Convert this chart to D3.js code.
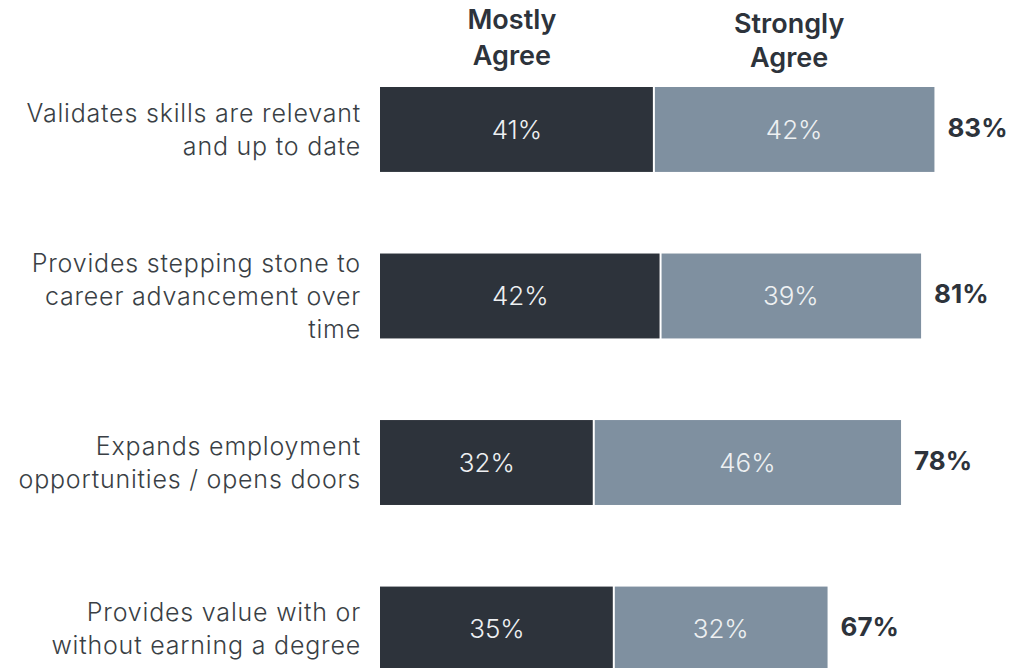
<!DOCTYPE html>
<html>
<head>
<meta charset="utf-8">
<script src="https://cdn.jsdelivr.net/npm/d3@7"></script>
<style>
  html, body { margin: 0; padding: 0; background: #ffffff; }
  svg { display: block; font-family: Inter, "Open Sans", sans-serif; }
</style>
</head>
<body>
<svg id="chart" width="1033" height="668"></svg>
<script>
// Survey statements and agreement shares (percent)
const categories = [
  ["Validates skills are relevant", "and up to date"],
  ["Provides stepping stone to", "career advancement over", "time"],
  ["Expands employment", "opportunities / opens doors"],
  ["Provides value with or", "without earning a degree"]
];
const mostlyAgree = [41, 42, 32, 35];
const stronglyAgree = [42, 39, 46, 32];
const totals = [83, 81, 78, 67];
const seriesNames = [["Mostly", "Agree"], ["Strongly", "Agree"]];
const seriesColors = ["#2d333b", "#7f90a0"];

const svg = d3.select("#chart");

const x = d3.scaleLinear().domain([0, 100]).range([380, 1048]);
const y = d3.scaleBand()
  .domain(d3.range(categories.length))
  .range([87, 671.5])
  .paddingInner(0.49)
  .paddingOuter(0);

const rows = categories.map((c, i) => ({
  i, label: c,
  segs: [
    { start: 0, end: mostlyAgree[i], v: mostlyAgree[i], s: 0 },
    { start: mostlyAgree[i], end: mostlyAgree[i] + stronglyAgree[i], v: stronglyAgree[i], s: 1 }
  ],
  total: totals[i]
}));

const row = svg.selectAll("g.row").data(rows).join("g").attr("class", "row");

// stacked segments, separated by a thin white gap
row.selectAll("rect").data(d => d.segs.map(s => ({ ...s, i: d.i }))).join("rect")
  .attr("x", d => x(d.start) + (d.s === 1 ? 1 : 0))
  .attr("y", d => y(d.i))
  .attr("width", d => x(d.end) - x(d.start) - 1)
  .attr("height", y.bandwidth())
  .attr("fill", d => seriesColors[d.s]);

// values inside segments
row.selectAll("text.val").data(d => d.segs.map(s => ({ ...s, i: d.i }))).join("text")
  .attr("class", "val")
  .attr("x", d => (x(d.start) + x(d.end)) / 2)
  .attr("y", d => y(d.i) + y.bandwidth() / 2)
  .attr("dy", "0.35em")
  .attr("text-anchor", "middle")
  .attr("font-size", 26)
  .attr("font-weight", 300)
  .attr("fill", "#eef0f2")
  .text(d => d.v + "%");

// totals at the end of each bar
row.append("text")
  .attr("x", d => x(d.total) + 13)
  .attr("y", d => y(d.i) + y.bandwidth() / 2 - 2)
  .attr("dy", "0.35em")
  .attr("font-size", 26)
  .attr("font-weight", 700)
  .attr("fill", "#2d333b")
  .text(d => d.total + "%");

// category labels, right aligned against the bars
const lineH = 33;
row.append("text")
  .attr("text-anchor", "end")
  .attr("font-size", 25)
  .attr("font-weight", 300)
  .attr("letter-spacing", "0.8px")
  .attr("fill", "#3a3f45")
  .each(function(d) {
    const n = d.label.length;
    const cy = y(d.i) + y.bandwidth() / 2;
    d3.select(this).selectAll("tspan").data(d.label).join("tspan")
      .attr("x", 361)
      .attr("y", (t, k) => cy + (k - (n - 1) / 2) * lineH)
      .attr("dy", "0.35em")
      .text(t => t);
  });

// series headers above the first bar
const headerX = [
  (x(0) + x(mostlyAgree[0])) / 2 - 5,
  (x(mostlyAgree[0]) + x(mostlyAgree[0] + stronglyAgree[0])) / 2 - 5
];
svg.selectAll("text.head").data(seriesNames).join("text")
  .attr("class", "head")
  .attr("text-anchor", "middle")
  .attr("font-size", 27)
  .attr("font-weight", 600)
  .attr("fill", "#2d333b")
  .each(function(d, s) {
    d3.select(this).selectAll("tspan").data(d).join("tspan")
      .attr("x", headerX[s])
      .attr("y", (t, k) => s === 0 ? 29 + k * 36 : 33 + k * 34)
      .text(t => t);
  });
</script>
</body>
</html>
